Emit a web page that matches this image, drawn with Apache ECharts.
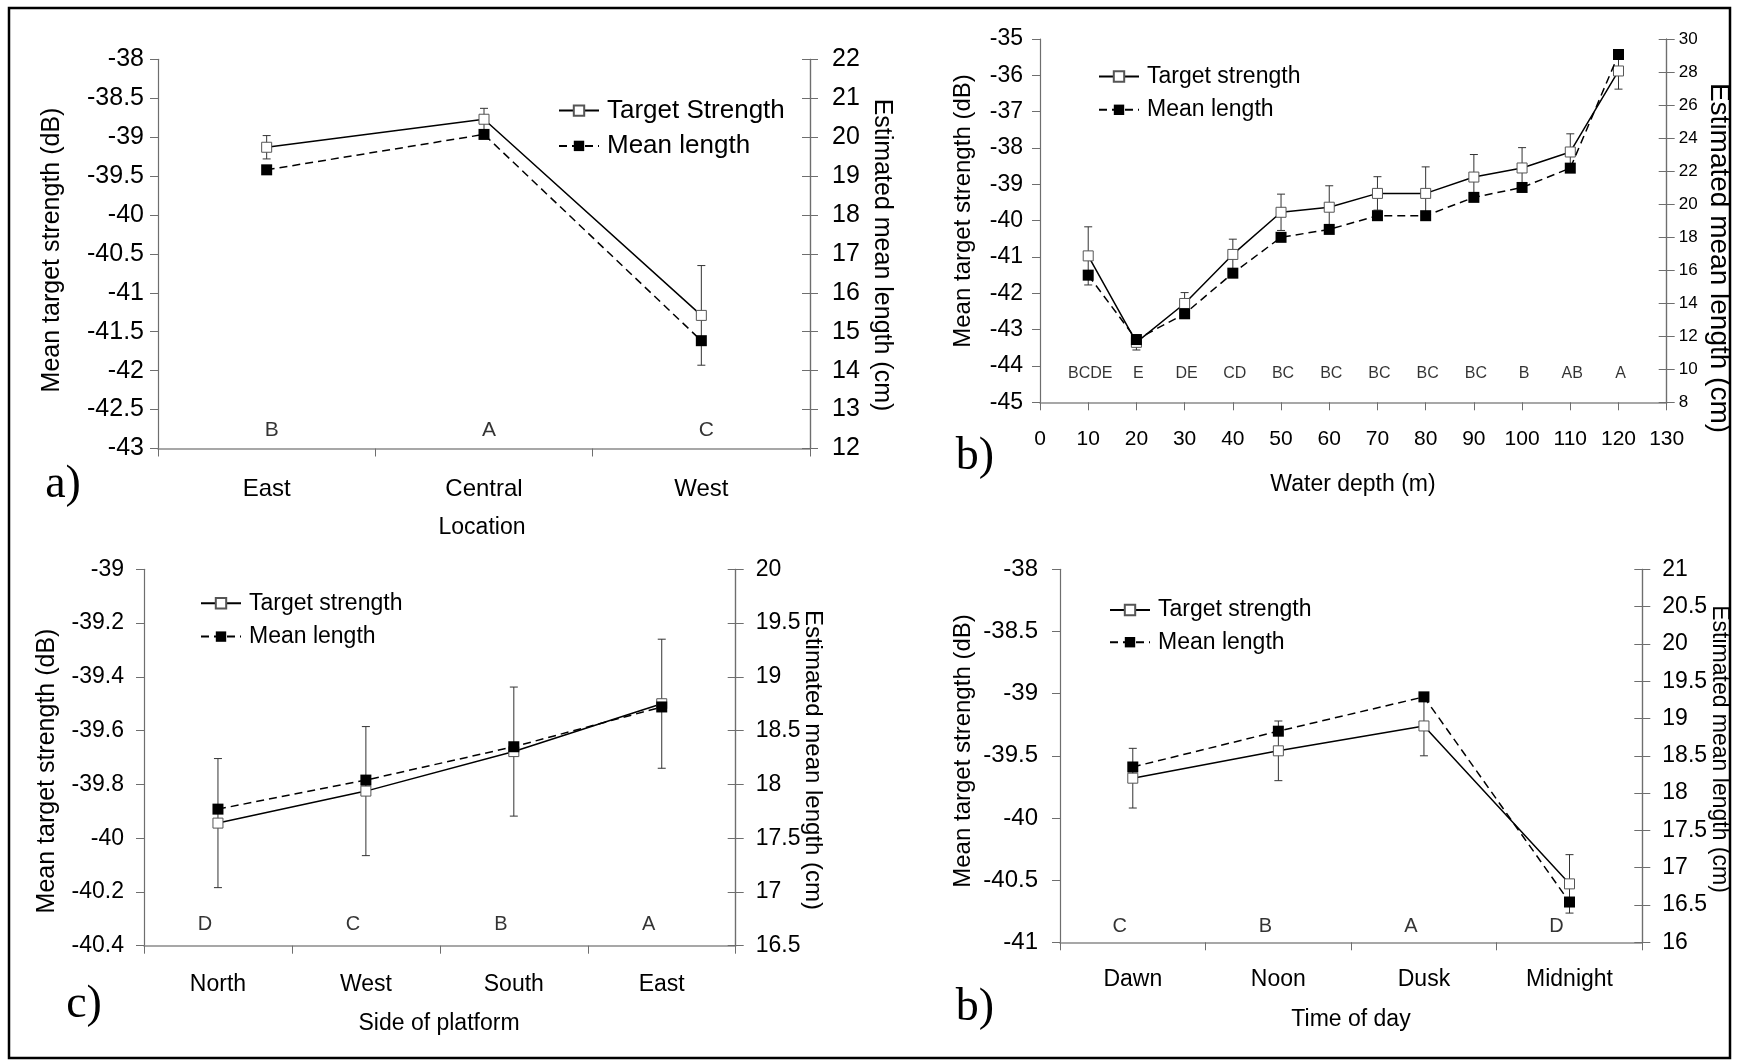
<!DOCTYPE html>
<html><head><meta charset="utf-8">
<script src="https://cdn.jsdelivr.net/npm/echarts@6/dist/echarts.min.js"></script>
<style>html,body{margin:0;padding:0;background:#fff}#c{width:1739px;height:1063px}</style>
</head><body><div id="c"></div>
<script>
// ---------- DATA ----------
// a) Location
const locCats = ['East', 'Central', 'West'];
const locTS = [-39.13, -38.77, -41.29];
const locTSErr = [0.15, 0.14, 0.64];
const locLen = [19.16, 20.07, 14.77];
const locLetters = ['B', 'A', 'C'];
const locLeftRange = [-43, -38, 0.5];
const locRightRange = [12, 22, 1];

// b) Water depth
const depths = [10, 20, 30, 40, 50, 60, 70, 80, 90, 100, 110, 120];
const depthTS = [-40.97, -43.35, -42.28, -40.93, -39.77, -39.63, -39.25, -39.25, -38.80, -38.55, -38.11, -35.88];
const depthTSErr = [0.8, 0.21, 0.3, 0.42, 0.5, 0.59, 0.46, 0.73, 0.62, 0.56, 0.5, 0.5];
const depthLen = [15.7, 11.8, 13.36, 15.82, 17.99, 18.47, 19.3, 19.3, 20.41, 21.01, 22.18, 29.06];
const depthLetters = ['BCDE', 'E', 'DE', 'CD', 'BC', 'BC', 'BC', 'BC', 'BC', 'B', 'AB', 'A'];
const depthXRange = [0, 130, 10];
const depthLeftRange = [-45, -35, 1];
const depthRightRange = [8, 30, 2];

// c) Side of platform
const sideCats = ['North', 'West', 'South', 'East'];
const sideTS = [-39.944, -39.825, -39.678, -39.5];
const sideTSErr = [0.24, 0.24, 0.24, 0.24];
const sideLen = [17.77, 18.04, 18.35, 18.72];
const sideLetters = ['D', 'C', 'B', 'A'];
const sideLeftRange = [-40.4, -39, 0.2];
const sideRightRange = [16.5, 20, 0.5];

// d) Time of day
const timeCats = ['Dawn', 'Noon', 'Dusk', 'Midnight'];
const timeTS = [-39.68, -39.46, -39.26, -40.53];
const timeTSErr = [0.24, 0.24, 0.24, 0.235];
const timeLen = [18.35, 18.83, 19.29, 16.54];
const timeLetters = ['C', 'B', 'A', 'D'];
const timeLeftRange = [-41, -38, 0.5];
const timeRightRange = [16, 21, 0.5];

// ---------- STYLE HELPERS ----------
const FONT = "'Liberation Sans', Arial, sans-serif";
const SERIF = "'Liberation Serif', 'Times New Roman', serif";
const AXC = '#6e6e6e';

const grids = [
  {left: 158, top: 59.3, width: 652, height: 389.2},
  {left: 1040, top: 39, width: 626.7, height: 363.3},
  {left: 144, top: 569.3, width: 591.7, height: 376.4},
  {left: 1060, top: 569.3, width: 582.3, height: 373}
];

function catX(gi, cats, size, margin) {
  return {type: 'category', gridIndex: gi, data: cats, boundaryGap: true,
    axisLine: {show: true, lineStyle: {color: '#8a8a8a', width: 1.5}},
    axisTick: {show: true, length: 8, inside: false, lineStyle: {color: AXC}},
    axisLabel: {color: '#000', fontSize: size, fontFamily: FONT, margin: margin},
    splitLine: {show: false}};
}
function valY(gi, range, pos, size, margin, inside, showLabel) {
  return {type: 'value', gridIndex: gi, position: pos, min: range[0], max: range[1], interval: range[2],
    axisLine: {show: true, onZero: false, lineStyle: {color: AXC, width: 1.2}},
    axisTick: {show: true, length: 8, inside: inside, lineStyle: {color: AXC}},
    axisLabel: {show: showLabel, color: '#000', fontSize: size, fontFamily: FONT, margin: margin},
    splitLine: {show: false}};
}

const xAxes = [
  catX(0, locCats, 24, 29),
  {type: 'value', gridIndex: 1, min: depthXRange[0], max: depthXRange[1], interval: depthXRange[2],
    axisLine: {show: true, onZero: false, lineStyle: {color: '#8a8a8a', width: 1.5}},
    axisTick: {show: true, length: 8, lineStyle: {color: AXC}},
    axisLabel: {color: '#000', fontSize: 21, fontFamily: FONT, margin: 26},
    splitLine: {show: false}},
  catX(2, sideCats, 23, 27),
  catX(3, timeCats, 23, 26)
];

const yAxes = [
  valY(0, locLeftRange, 'left', 25, 14, false, true),     //0
  valY(0, locRightRange, 'right', 25, 22, false, true),   //1
  valY(0, locRightRange, 'right', 25, 22, true, false),   //2
  valY(1, depthLeftRange, 'left', 23, 17, false, true),   //3
  valY(1, depthRightRange, 'right', 17, 12, false, true), //4
  valY(1, depthRightRange, 'right', 17, 12, true, false), //5
  valY(2, sideLeftRange, 'left', 23, 20, false, true),    //6
  valY(2, sideRightRange, 'right', 23, 20, false, true),  //7
  valY(2, sideRightRange, 'right', 23, 20, true, false),  //8
  valY(3, timeLeftRange, 'left', 24, 22, false, true),    //9
  valY(3, timeRightRange, 'right', 23, 20, false, true),  //10
  valY(3, timeRightRange, 'right', 23, 20, true, false)   //11
];

function tsSeries(name, xi, yi, data) {
  return {type: 'line', name: name, xAxisIndex: xi, yAxisIndex: yi, data: data,
    symbol: 'rect', symbolSize: 10, showSymbol: true,
    lineStyle: {color: '#000', width: 1.5, type: 'solid'},
    itemStyle: {color: '#fff', borderColor: '#555', borderWidth: 1},
    z: 3, animation: false};
}
function lenSeries(name, xi, yi, data) {
  return {type: 'line', name: name, xAxisIndex: xi, yAxisIndex: yi, data: data,
    symbol: 'rect', symbolSize: 11, showSymbol: true,
    lineStyle: {color: '#000', width: 1.5, type: [8, 5]},
    itemStyle: {color: '#000'},
    z: 4, animation: false};
}
function errSeries(xi, yi, xs, ys, errs) {
  return {type: 'custom', xAxisIndex: xi, yAxisIndex: yi,
    data: ys.map((v, i) => [xs ? xs[i] : i, v, errs[i]]),
    encode: {x: 0, y: 1},
    renderItem: function (params, api) {
      const x = api.value(0), y = api.value(1), e = api.value(2);
      const t = api.coord([x, y + e]), b = api.coord([x, y - e]);
      const w = 4;
      const st = {stroke: '#333', lineWidth: 1};
      return {type: 'group', children: [
        {type: 'line', shape: {x1: t[0], y1: t[1], x2: b[0], y2: b[1]}, style: st},
        {type: 'line', shape: {x1: t[0] - w, y1: t[1], x2: t[0] + w, y2: t[1]}, style: st},
        {type: 'line', shape: {x1: b[0] - w, y1: b[1], x2: b[0] + w, y2: b[1]}, style: st}
      ]};
    }, z: 2, animation: false};
}
function letterSeries(xi, yi, xs, letters, yv, size, dx) {
  return {type: 'scatter', xAxisIndex: xi, yAxisIndex: yi, symbolSize: 1,
    itemStyle: {color: 'rgba(0,0,0,0)'},
    data: letters.map((l, i) => ({value: [xs ? xs[i] : i, yv], name: l})),
    label: {show: true, position: 'inside', formatter: '{b}', color: '#000',
      fontSize: size, fontFamily: FONT, offset: [dx, 0]},
    silent: true, animation: false, z: 5};
}

const series = [
  errSeries(0, 0, null, locTS, locTSErr),
  tsSeries('Target Strength', 0, 0, locTS),
  lenSeries('Mean length', 0, 1, locLen),
  letterSeries(0, 0, null, locLetters, -42.76, 21, 5),

  errSeries(1, 3, depths, depthTS, depthTSErr),
  tsSeries('Target strength', 1, 3, depths.map((d, i) => [d, depthTS[i]])),
  lenSeries('Mean length', 1, 4, depths.map((d, i) => [d, depthLen[i]])),
  letterSeries(1, 3, depths, depthLetters, -44.2, 16, 2),

  errSeries(2, 6, null, sideTS, sideTSErr),
  tsSeries('Target strength', 2, 6, sideTS),
  lenSeries('Mean length', 2, 7, sideLen),
  letterSeries(2, 6, null, sideLetters, -40.32, 20, -13),

  errSeries(3, 9, null, timeTS, timeTSErr),
  tsSeries('Target strength', 3, 9, timeTS),
  lenSeries('Mean length', 3, 10, timeLen),
  letterSeries(3, 9, null, timeLetters, -40.87, 20, -13)
];

function leg(name, left, cy, size) {
  const ih = 13;
  return {data: [name], orient: 'vertical', left: left, top: cy - size * 0.6 + 4.5,
    itemWidth: 40, itemHeight: ih, padding: 0, selectedMode: false,
    textStyle: {color: '#000', fontSize: size, fontFamily: FONT, padding: [0, 0, 0, 3]}};
}
const legends = [
  leg('Target Strength', 558, 108.7, 26), leg('Mean length', 558, 144, 26),
  leg('Target strength', 1098, 74.3, 23), leg('Mean length', 1098, 107.6, 23),
  leg('Target strength', 200, 601, 23), leg('Mean length', 200, 634.4, 23),
  leg('Target strength', 1109, 607.8, 23), leg('Mean length', 1109, 640, 23)
];

function txt(text, x, y, size, rot, family) {
  return {type: 'text', x: x, y: y, rotation: rot || 0, silent: true,
    style: {text: text, fill: '#000', font: size + 'px ' + (family || FONT), align: 'center', verticalAlign: 'middle'}};
}
const R = Math.PI / 2;
const graphics = [
  {type: 'rect', shape: {x: 9, y: 8, width: 1721, height: 1050}, style: {fill: null, stroke: '#000', lineWidth: 2.5}, silent: true},
  txt('Mean target strength (dB)', 52, 250, 25, R),
  txt('Estimated mean length (cm)', 882, 255, 25, -R),
  txt('Location', 482, 528, 23),
  txt('a)', 63, 485, 46, 0, SERIF),

  txt('Mean target strength (dB)', 963, 211, 24, R),
  txt('Estimated mean length (cm)', 1719, 258, 28, -R),
  txt('Water depth (m)', 1353, 485, 23),
  txt('b)', 975, 457, 46, 0, SERIF),

  txt('Mean target strength (dB)', 47, 771, 25, R),
  txt('Estimated mean length (cm)', 813, 760, 24, -R),
  txt('Side of platform', 439, 1024, 23),
  txt('c)', 84, 1005, 46, 0, SERIF),

  txt('Mean target strength (dB)', 963, 751, 24, R),
  txt('Estimated mean length (cm)', 1719, 749, 23, -R),
  txt('Time of day', 1351, 1020, 23),
  txt('b)', 975, 1008, 46, 0, SERIF)
];

const chart = echarts.init(document.getElementById('c'), null, {renderer: 'canvas'});
chart.setOption({
  backgroundColor: '#fff',
  animation: false,
  grid: grids,
  xAxis: xAxes,
  yAxis: yAxes,
  legend: legends,
  series: series,
  graphic: graphics
});
</script>
</body></html>
